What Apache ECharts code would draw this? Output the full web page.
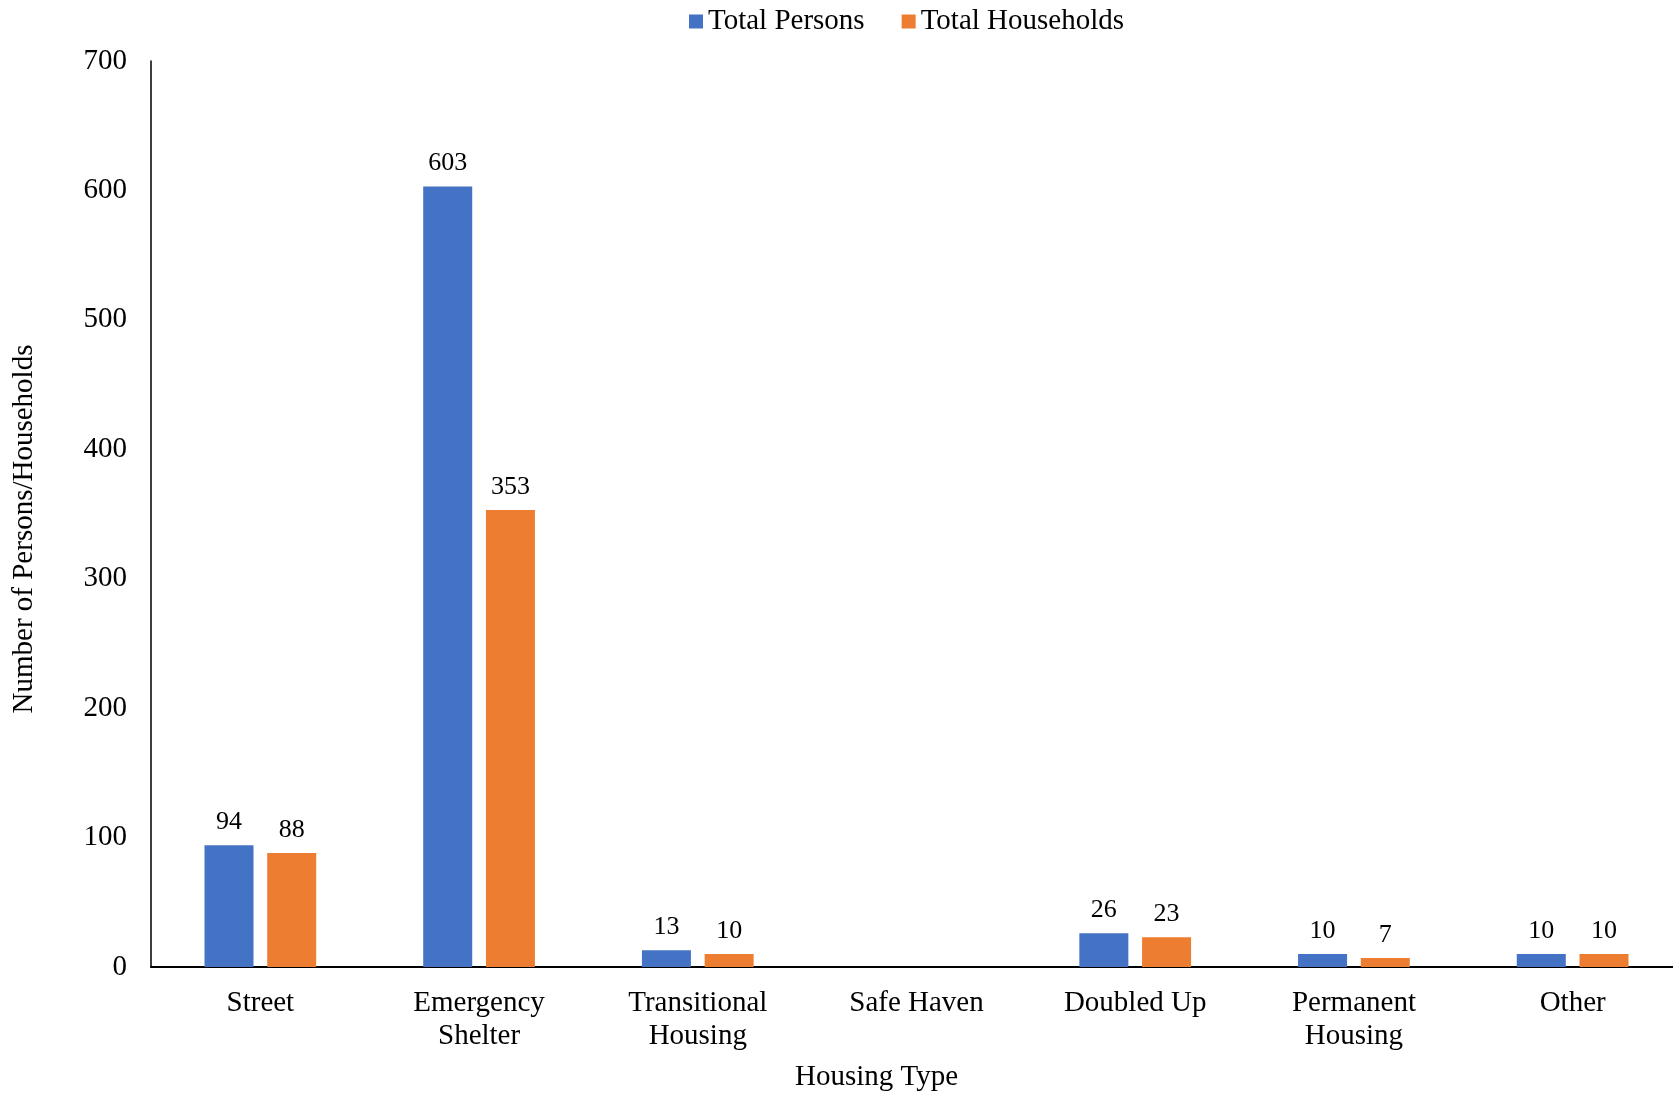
<!DOCTYPE html>
<html>
<head>
<meta charset="utf-8">
<script src="https://cdn.jsdelivr.net/npm/echarts@6/dist/echarts.min.js"></script>
<style>
  html, body { margin: 0; padding: 0; background: #fff; }
  #chart { width: 1673px; height: 1094px; }
</style>
</head>
<body>
<div id="chart"></div>
<script>
// housing types on the x axis
const categories = ['Street', 'Emergency\nShelter', 'Transitional\nHousing', 'Safe Haven', 'Doubled Up', 'Permanent\nHousing', 'Other']
// Safe Haven has no bars in the source
const totalPersons = [94, 603, 13, null, 26, 10, 10]
const totalHouseholds = [88, 353, 10, null, 23, 7, 10]
const yTicks = [0, 100, 200, 300, 400, 500, 600, 700]

const font = 'Liberation Serif, Times New Roman, serif'
const chart = echarts.init(document.getElementById('chart'))

const labelStyle = {
  show: true,
  position: 'top',
  distance: 10,
  fontFamily: font,
  fontSize: 26,
  color: '#000'
}

chart.setOption({
  animation: false,
  textStyle: { fontFamily: font },
  legend: {
    top: 2,
    left: 684,
    itemWidth: 14,
    itemHeight: 14,
    itemGap: 37,
    icon: 'rect',
    textStyle: { fontFamily: font, fontSize: 29, color: '#000' },
    data: ['Total Persons', 'Total Households']
  },
  grid: {
    left: 151,
    right: -9,
    top: 61,
    bottom: 127,
    containLabel: false,
    outerBoundsMode: 'none'
  },
  xAxis: {
    type: 'category',
    data: categories,
    name: 'Housing Type',
    nameLocation: 'middle',
    nameGap: 96,
    nameTextStyle: { fontFamily: font, fontSize: 29, color: '#000', padding: [0, 80, 0, 0] },
    axisLine: { lineStyle: { color: '#000', width: 2 } },
    axisTick: { show: false },
    axisLabel: {
      fontFamily: font,
      fontSize: 29,
      color: '#000',
      margin: 20,
      lineHeight: 33
    }
  },
  yAxis: {
    type: 'value',
    min: yTicks[0],
    max: yTicks[yTicks.length - 1],
    interval: 100,
    name: 'Number of Persons/Households',
    nameLocation: 'middle',
    nameGap: 112,
    nameTextStyle: { fontFamily: font, fontSize: 29, color: '#000', padding: [0, 30, 0, 0] },
    axisLine: { show: true, lineStyle: { color: '#000', width: 1.5 } },
    axisTick: { show: false },
    splitLine: { show: false },
    axisLabel: {
      fontFamily: font,
      fontSize: 29,
      color: '#000',
      margin: 24
    }
  },
  series: [
    {
      name: 'Total Persons',
      type: 'bar',
      data: totalPersons,
      barWidth: 49,
      barGap: '28%',
      itemStyle: { color: '#4472C4' },
      label: labelStyle
    },
    {
      name: 'Total Households',
      type: 'bar',
      data: totalHouseholds,
      barWidth: 49,
      barGap: '28%',
      itemStyle: { color: '#ED7D31' },
      label: labelStyle
    }
  ]
})
</script>
</body>
</html>
